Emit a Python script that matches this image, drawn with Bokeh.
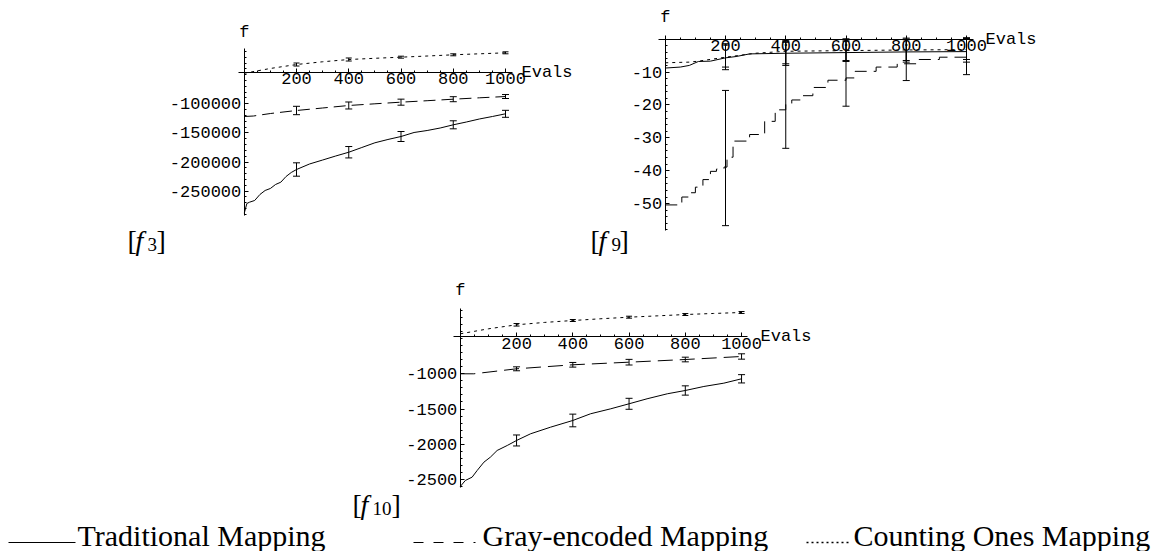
from bokeh.plotting import figure
from bokeh.models import Range1d, FixedTicker, Whisker, TeeHead, ColumnDataSource
from bokeh.layouts import column, row
from bokeh.core.properties import value
from bokeh.embed import file_html
from bokeh.resources import INLINE

# ---------------- data ----------------
EVAL_MARKS = [200, 400, 600, 800, 1000]
SERIES_NAMES = ["Traditional Mapping", "Gray-encoded Mapping", "Counting Ones Mapping"]

# f3
f3_trad_x = [0, 10, 20, 40, 60, 80, 100, 120, 140, 160, 180, 200, 250, 300, 350, 400, 450,
             500, 550, 600, 650, 700, 750, 800, 850, 900, 950, 1000]
f3_trad_y = [-288000, -271300, -269100, -266100, -255800, -248900, -245500, -238600, -234700,
             -224900, -218000, -212900, -203400, -196600, -189700, -183200, -175100, -167000,
             -161300, -156200, -149300, -145900, -141600, -136100, -131300, -126100, -121800,
             -117200]
f3_trad_err = [11500, 9800, 8600, 6900, 6000]
f3_gray_x = [0, 35, 100, 200, 300, 400, 500, 600, 700, 800, 900, 1000]
f3_gray_y = [-121800, -121000, -116700, -111500, -107200, -102900, -100000, -97200, -94700,
             -92100, -89700, -87500]
f3_gray_err = [7200, 6000, 5200, 4300, 3400]
f3_count_x = [0, 100, 200, 300, 400, 500, 600, 700, 800, 900, 1000]
f3_count_y = [-47500, -39300, -32500, -27800, -23900, -21800, -19900, -17900, -15800, -14100,
              -12400]
f3_count_err = [2600, 2600, 1700, 1700, 1700]
f3_yticks = [-250000, -200000, -150000, -100000]

# f9
f9_trad_x = [0, 50, 80, 110, 150, 200, 235, 280, 400, 600, 800, 1000]
f9_trad_y = [-8.8, -8.5, -8.0, -6.8, -6.7, -5.7, -5.3, -4.5, -4.3, -4.1, -3.9, -3.8]
f9_gray_x = [0, 55, 80, 100, 125, 150, 170, 195, 205, 225, 280, 330, 365, 400, 420, 450, 490,
             540, 600, 630, 700, 770, 840, 910, 1000]
f9_gray_y = [-50.4, -48.0, -46.7, -45.0, -42.7, -40.2, -39.5, -38.9, -35.9, -31.0, -29.0, -25.0,
             -21.5, -19.7, -18.5, -17.2, -14.7, -12.5, -11.8, -9.8, -8.5, -7.5, -6.2, -5.5, -5.3]
f9_count_x = [0, 80, 110, 200, 300, 400, 600, 800, 1000]
f9_count_y = [-7.2, -7.0, -6.7, -5.5, -4.3, -3.7, -3.5, -3.3, -3.2]
f9_trad_lo = [-9.3, -7.5, -6.5, -7.0, -6.2]
f9_trad_hi = [-1.4, -0.9, -0.6, 0.3, 0.4]
f9_count_lo = [-8.5, -8.0, -6.8, -6.5, -7.0]
f9_count_hi = [-1.8, -0.5, -0.2, 0.0, 0.2]
f9_gray_lo = [-56.7, -33.2, -20.4, -12.6, -10.8]
f9_gray_hi = [-15.6, -0.9, 0.1, -0.2, 0.3]
f9_yticks = [-50, -40, -30, -20, -10]

# f10
f10_trad_x = [0, 18, 42, 60, 84, 107, 131, 167, 200, 250, 321, 400, 463, 535, 600, 664, 736,
              800, 866, 937, 1000]
f10_trad_y = [-2600, -2515, -2468, -2373, -2255, -2184, -2089, -2018, -1947, -1852, -1758,
              -1663, -1568, -1497, -1426, -1355, -1284, -1237, -1180, -1133, -1071]
f10_trad_err = [78, 90, 78, 66, 59]
f10_gray_x = [0, 48, 200, 400, 600, 800, 1000]
f10_gray_y = [-1000, -1000, -929, -872, -835, -797, -754]
f10_gray_err = [28, 33, 40, 33, 38]
f10_count_x = [0, 100, 200, 300, 400, 500, 600, 700, 800, 900, 1000]
f10_count_y = [-432, -361, -304, -270, -243, -218, -196, -177, -158, -143, -129]
f10_count_err = [18, 14, 14, 14, 14]
f10_yticks = [-2500, -2000, -1500, -1000]

# ---------------- styling ----------------
MONO = "Liberation Mono"
SERIF = "Liberation Serif"
TICK_PX = "17px"
DASH = "12 6"
DOT = "3 4"
TEXT_SHIFT = 9   # compensates where the svg text baseline lands


def panel(left, top, w, h, ev0, kx, v0, ky):
    """Figure whose frame covers page pixels [left, left+w] x [top, top+h]."""
    def X(px):
        return (px - ev0) / kx

    def Y(py):
        return (v0 - py) / ky

    p = figure(width=w, height=h,
               x_range=Range1d(X(left), X(left + w)),
               y_range=Range1d(Y(top + h), Y(top)),
               output_backend="svg", toolbar_location=None,
               min_border=0, outline_line_color=None)
    p.grid.visible = False
    p.background_fill_color = "white"
    p.border_fill_color = "white"
    return p, X, Y


def style_axes(p, xcross, xbounds, ybounds, yticks, ystep):
    xa, ya = p.xaxis[0], p.yaxis[0]
    xa.fixed_location = xcross
    ya.fixed_location = 0
    xa.bounds = xbounds
    ya.bounds = ybounds
    xa.ticker = FixedTicker(ticks=EVAL_MARKS,
                            minor_ticks=[m for m in range(50, 1001, 50) if m % 200])
    lo = ybounds[0]
    minors = []
    v = 0
    while v > lo:
        v -= ystep
        if v > lo:
            minors.append(v)
    ya.ticker = FixedTicker(ticks=yticks, minor_ticks=minors)
    ya.major_label_overrides = {t: str(int(t)) for t in yticks}
    xa.major_label_overrides = {t: str(int(t)) for t in EVAL_MARKS}
    for a in (xa, ya):
        a.axis_line_color = "black"
        a.axis_line_width = 1
        a.major_tick_in = 4
        a.major_tick_out = 0
        a.minor_tick_in = 2
        a.minor_tick_out = 0
        a.major_tick_line_color = "black"
        a.minor_tick_line_color = "black"
        a.major_label_text_font = MONO
        a.major_label_text_font_size = TICK_PX
        a.major_label_text_color = "black"
    xa.major_label_standoff = 1
    ya.major_label_standoff = 3


def errbars(p, lo, hi, head=7):
    src = ColumnDataSource(dict(x=EVAL_MARKS, lo=lo, hi=hi))
    w = Whisker(source=src, base="x", lower="lo", upper="hi",
                line_color="black", line_width=1,
                upper_head=TeeHead(size=head, line_color="black", line_width=1),
                lower_head=TeeHead(size=head, line_color="black", line_width=1))
    p.add_layout(w)


def centred(xs, ys, errs):
    d = dict(zip(xs, ys))
    c = [d[m] for m in EVAL_MARKS]
    return [a - e for a, e in zip(c, errs)], [a + e for a, e in zip(c, errs)]


def mono_text(p, x, y, txt, align):
    p.text(x=[x], y=[y], text=[txt], text_font=value(MONO), text_font_size=TICK_PX,
           text_align=align, text_baseline="middle", text_color="black")


def fn_label(p, X, Y, xs, base, sub):
    # [ f_sub ]  drawn as separate pieces: bracket, italic f, subscript, bracket
    b = base - TEXT_SHIFT
    p.text(x=[X(xs[0]), X(xs[3])], y=[Y(b), Y(b)], text=["[", "]"],
           text_font=value(SERIF), text_font_size="28px", text_baseline="alphabetic",
           text_align="left", text_color="black")
    p.text(x=[X(xs[1])], y=[Y(b)], text=["f"], text_font=value(SERIF),
           text_font_style="italic", text_font_size="28px", text_baseline="alphabetic",
           text_align="left", text_color="black")
    p.text(x=[X(xs[2])], y=[Y(b + 4)], text=[sub], text_font=value(SERIF),
           text_font_size="19px", text_baseline="alphabetic", text_align="left",
           text_color="black")


# ---------------- f3 ----------------
p3, X3, Y3 = panel(0, 0, 586, 263, 243.75, 0.26125, 45.1, 29.1 / 50000)
f3_cross = -46200
style_axes(p3, f3_cross, (-22, 1027), (-291900, -5000), f3_yticks, 10000)
p3.line(f3_trad_x, f3_trad_y, line_color="black", line_width=1)
p3.line(f3_gray_x, f3_gray_y, line_color="black", line_width=1, line_dash=DASH)
p3.line(f3_count_x, f3_count_y, line_color="black", line_width=1, line_dash=DOT)
errbars(p3, *centred(f3_trad_x, f3_trad_y, f3_trad_err))
errbars(p3, *centred(f3_gray_x, f3_gray_y, f3_gray_err))
errbars(p3, *centred(f3_count_x, f3_count_y, f3_count_err), head=6)
mono_text(p3, X3(521), f3_cross, "Evals", "left")
mono_text(p3, 0, Y3(31.7), "f", "center")
fn_label(p3, X3, Y3, [127, 135, 147, 156], 249, "3")

# ---------------- f9 ----------------
p9, X9, Y9 = panel(586, 0, 568, 263, 664.75, 0.30125, 38.6, 3.29)
style_axes(p9, 0, (-21.4, 1024), (-58.2, 1.1), f9_yticks, 2)
p9.line(f9_trad_x, f9_trad_y, line_color="black", line_width=1)
p9.step(f9_gray_x, f9_gray_y, mode="after", line_color="black", line_width=1,
        line_dash="12 7")
p9.line(f9_count_x, f9_count_y, line_color="black", line_width=1, line_dash=DOT)
errbars(p9, f9_gray_lo, f9_gray_hi)
errbars(p9, f9_trad_lo, f9_trad_hi)
errbars(p9, f9_count_lo, f9_count_hi)
mono_text(p9, X9(985), 0, "Evals", "left")
mono_text(p9, 0, Y9(16.7), "f", "center")
fn_label(p9, X9, Y9, [590, 598, 611, 619], 249, "9")

# ---------------- f10 (+ legend) ----------------
p10, X10, Y10 = panel(0, 263, 1154, 288, 459.8, 0.28125, 302.9, 0.0704)
f10_cross = -475
style_axes(p10, f10_cross, (-23, 1022), (-2621, -70), f10_yticks, 100)
p10.line(f10_trad_x, f10_trad_y, line_color="black", line_width=1)
p10.line(f10_gray_x, f10_gray_y, line_color="black", line_width=1, line_dash="15 7")
p10.line(f10_count_x, f10_count_y, line_color="black", line_width=1, line_dash=DOT)
errbars(p10, *centred(f10_trad_x, f10_trad_y, f10_trad_err))
errbars(p10, *centred(f10_gray_x, f10_gray_y, f10_gray_err))
errbars(p10, *centred(f10_count_x, f10_count_y, f10_count_err), head=6)
mono_text(p10, X10(760), f10_cross, "Evals", "left")
mono_text(p10, 0, Y10(290), "f", "center")
fn_label(p10, X10, Y10, [352, 360, 372, 391], 513, "10")

# legend row (page pixels -> p10 data)
LEG_BASE = 544 - TEXT_SHIFT
LEG_LINE_Y = 542
leg_samples = [((8, 75), None, 1), ((413, 475), "10 10", 1), ((806, 848), "2 3", 1.5)]
leg_text_x = [77, 482, 853]
for (x0, x1), dash, lw in leg_samples:
    kw = dict(line_color="black", line_width=lw)
    if dash:
        kw["line_dash"] = dash
    p10.line([X10(x0), X10(x1)], [Y10(LEG_LINE_Y), Y10(LEG_LINE_Y)], **kw)
p10.text(x=[X10(v) for v in leg_text_x], y=[Y10(LEG_BASE)] * 3, text=SERIES_NAMES,
         text_font=value(SERIF), text_font_size="30px", text_baseline="alphabetic",
         text_align="left", text_color="black")

layout = column(row(p3, p9), p10)
open("out.html", "w").write(file_html(layout, INLINE))
